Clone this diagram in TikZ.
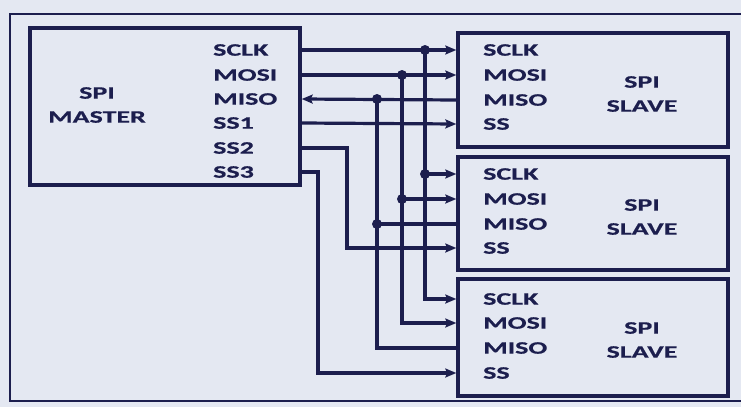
\documentclass[tikz,border=0pt]{standalone}
\usepackage{fontspec}
\setmainfont{Carlito}[FakeStretch=1.6, FakeBold=0.6]
\usepackage{tikz}
\usetikzlibrary{positioning, arrows.meta, calc}
\definecolor{ink}{RGB}{28,30,78}
\definecolor{paper}{RGB}{228,232,242}

\tikzset{
  box/.style={draw=ink, line width=3.4pt, inner sep=0pt},
  pinlbl/.style={anchor=west, inner sep=0pt, text=ink, font=\fontsize{17.5}{20}\selectfont\bfseries},
  title/.style={align=center, text=ink, font=\fontsize{17.5}{24}\selectfont\bfseries},
  wire/.style={draw=ink, line width=3.2pt},
  sig/.style={wire, -{Stealth[length=11pt, width=9pt, inset=2pt]}},
  dot/.style={fill=ink, circle, inner sep=0pt, minimum size=10pt}
}

\begin{document}
\begin{tikzpicture}[x=1pt, y=-1pt]
\useasboundingbox (0,0) rectangle (741,407);
\fill[paper] (0,0) rectangle (741,407);
% outer frame
\draw[ink, line width=2.6pt] (741,14) -- (10,14) -- (10,401) -- (741,401);

% master
\node[box, minimum width=270pt, minimum height=157pt] (master) at (165,106.5) {};
\node[title] (mname) at (97,105) {SPI\\MASTER};
\node[pinlbl] (msclk) at (213,50) {SCLK};
\node[pinlbl] (mmosi) at (213,75) {MOSI};
\node[pinlbl] (mmiso) at (213,99) {MISO};
\node[pinlbl] (mss1) at (213,123) {SS1};
\node[pinlbl] (mss2) at (213,148) {SS2};
\node[pinlbl] (mss3) at (213,172) {SS3};

% slaves
\node[box, minimum width=270pt, minimum height=114pt] (s1) at (593,90) {};
\node[box, minimum width=270pt, minimum height=113pt] (s2) at (593,213.5) {};
\node[box, minimum width=270pt, minimum height=117pt] (s3) at (593,337.5) {};
\foreach \s/\a/\b/\c/\d in {s1/50/75/100/124, s2/174/199/224/248, s3/299/323/348/373}{
  \node[pinlbl] (\s sclk) at (483,\a) {SCLK};
  \node[pinlbl] (\s mosi) at (483,\b) {MOSI};
  \node[pinlbl] (\s miso) at (483,\c) {MISO};
  \node[pinlbl] (\s ss) at (483,\d) {SS};
}
\node[title] (s1name) at (642,94) {SPI\\SLAVE};
\node[title] (s2name) at (642,217) {SPI\\SLAVE};
\node[title] (s3name) at (642,340) {SPI\\SLAVE};

% bus columns
\coordinate (bclk) at (425,0);
\coordinate (bmosi) at (402,0);
\coordinate (bmiso) at (377,0);
\coordinate (bss2) at (347,0);
\coordinate (bss3) at (318,0);

% SCLK
\draw[sig] (master.east |- msclk) -- (s1.west |- s1sclk);
\draw[sig] (bclk |- msclk) -- (bclk |- s3sclk) -- (s3.west |- s3sclk);
\draw[sig] (bclk |- s2sclk) -- (s2.west |- s2sclk);
\node[dot] at (bclk |- msclk) {};
\node[dot] at (bclk |- s2sclk) {};
% MOSI
\draw[sig] (master.east |- mmosi) -- (s1.west |- s1mosi);
\draw[sig] (bmosi |- mmosi) -- (bmosi |- s3mosi) -- (s3.west |- s3mosi);
\draw[sig] (bmosi |- s2mosi) -- (s2.west |- s2mosi);
\node[dot] at (bmosi |- mmosi) {};
\node[dot] at (bmosi |- s2mosi) {};
% MISO
\draw[sig] (s1.west |- s1miso) -- (master.east |- mmiso);
\draw[wire] (bmiso |- mmiso) -- (bmiso |- s3miso) -- (s3.west |- s3miso);
\draw[wire] (bmiso |- s2miso) -- (s2.west |- s2miso);
\node[dot] at (bmiso |- mmiso) {};
\node[dot] at (bmiso |- s2miso) {};
% slave selects
\draw[sig] (master.east |- mss1) -- (s1.west |- s1ss);
\draw[sig] (master.east |- mss2) -- (bss2 |- mss2) -- (bss2 |- s2ss) -- (s2.west |- s2ss);
\draw[sig] (master.east |- mss3) -- (bss3 |- mss3) -- (bss3 |- s3ss) -- (s3.west |- s3ss);
\end{tikzpicture}
\end{document}
